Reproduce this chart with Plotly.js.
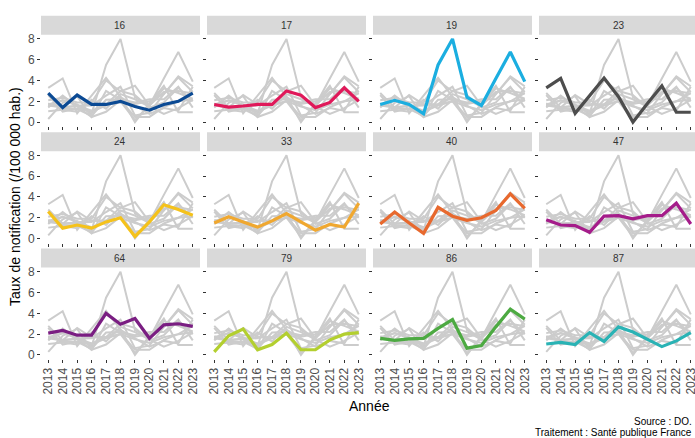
<!DOCTYPE html>
<html>
<head>
<meta charset="utf-8">
<script src="https://cdn.plot.ly/plotly-3.0.1.min.js"></script>
<style>html,body{margin:0;padding:0;background:#fff;}#chart{width:695px;height:438px;}</style>
</head>
<body>
<div id="chart"></div>
<script>
// ---- data ----
const years = [2013,2014,2015,2016,2017,2018,2019,2020,2021,2022,2023];
const yearLabels = ['2013','2014','2015','2016','2017','2018','2019','2020','2021','2022','2023'];
const depts = ['16','17','19','23','24','33','40','47','64','79','86','87'];
const d16 = [2.8,1.4,2.6,1.7,1.7,2.0,1.5,1.15,1.7,2.0,2.8];
const d17 = [1.7,1.45,1.55,1.7,1.7,3.0,2.6,1.4,1.9,3.3,2.0];
const d19 = [1.7,2.1,1.7,0.8,5.5,8.0,2.4,1.6,4.2,6.75,3.9];
const d23 = [3.3,4.2,0.85,2.5,4.25,2.45,0.0,1.8,3.5,0.95,0.95];
const d24 = [2.6,1.0,1.3,1.0,1.6,2.0,0.2,1.6,3.25,2.8,2.25];
const d33 = [1.5,2.1,1.6,1.1,1.7,2.4,1.6,0.8,1.35,1.1,3.4];
const d40 = [1.4,2.55,1.5,0.5,3.0,2.15,1.75,2.0,2.7,4.3,2.9];
const d47 = [1.8,1.3,1.25,0.6,2.15,2.2,1.9,2.2,2.2,3.4,1.4];
const d64 = [2.1,2.35,1.9,1.9,4.0,2.95,3.5,1.6,2.9,3.0,2.75];
const d79 = [0.3,1.85,2.5,0.5,1.0,2.1,0.5,0.5,1.45,2.0,2.15];
const d86 = [1.6,1.4,1.55,1.6,2.55,3.4,0.65,0.9,2.7,4.4,3.45];
const d87 = [1.05,1.2,1.0,2.15,1.3,2.7,2.2,1.5,0.8,1.35,2.15];
const series = [d16,d17,d19,d23,d24,d33,d40,d47,d64,d79,d86,d87];
const colors = ['#0B4A94','#E0195A','#1BAEE0','#4D4D4D','#F5C21B','#F0A830','#E8692E','#A51C8A','#7A1E82','#B3CF2F','#4DAA42','#2AB3B5'];
const yTicks = [0,2,4,6,8];

// ---- layout geometry ----
const W = 695, H = 438;
const font = 'Liberation Sans, Arial, Helvetica, sans-serif';
const traces = [];
const layout = {
  width: W, height: H,
  margin: {l:0, r:0, t:0, b:0},
  paper_bgcolor: '#ffffff', plot_bgcolor: '#ffffff',
  showlegend: false,
  font: {family: font, color: '#4D4D4D'},
  shapes: [], annotations: []
};
const pxPerYear = 159 / 11;

depts.forEach((dep, i) => {
  const col = i % 4, row = Math.floor(i / 4);
  const n = i === 0 ? '' : String(i + 1);
  const xLeft = 41 + col * 166;
  const xRight = Math.min(xLeft + 159, W);
  const yTop = 34.8 + row * 116.4;
  const yBot = yTop + 91.5;

  series.forEach((s, j) => {
    if (j === i) return;
    traces.push({x: years, y: s, type: 'scatter', mode: 'lines',
      xaxis: 'x' + n, yaxis: 'y' + n, hoverinfo: 'skip',
      line: {color: '#CCCCCC', width: 2}});
  });
  traces.push({x: years, y: series[i], type: 'scatter', mode: 'lines',
    xaxis: 'x' + n, yaxis: 'y' + n,
    line: {color: colors[i], width: 3.2}});

  layout['xaxis' + n] = {
    domain: [xLeft / W, xRight / W],
    range: [2012.5, 2012.5 + (xRight - xLeft) / pxPerYear],
    anchor: 'y' + n,
    showgrid: false, zeroline: false, showline: false,
    ticks: 'outside', ticklen: 3, tickwidth: 1, tickcolor: '#333333',
    tickvals: years, ticktext: yearLabels, tickangle: -90,
    ticklabeloverflow: 'allow',
    showticklabels: row === 2,
    tickfont: {family: font, size: 12, color: '#4D4D4D'}
  };
  layout['yaxis' + n] = {
    domain: [1 - yBot / H, 1 - yTop / H],
    range: [-0.4, 8.4],
    anchor: 'x' + n,
    showgrid: false, zeroline: false, showline: false,
    ticks: 'outside', ticklen: 3, tickwidth: 1, tickcolor: '#333333',
    tickvals: yTicks,
    showticklabels: col === 0,
    tickfont: {family: font, size: 12, color: '#4D4D4D'}
  };
  layout.shapes.push({type: 'rect', xref: 'paper', yref: 'paper',
    x0: xLeft / W, x1: xRight / W, y0: 1 - yTop / H, y1: 1 - (yTop - 19) / H,
    fillcolor: '#D9D9D9', line: {width: 0}, layer: 'below'});
  layout.annotations.push({xref: 'paper', yref: 'paper',
    x: (xLeft + 79.5) / W, y: 1 - (yTop - 9.5) / H,
    text: dep, showarrow: false, xanchor: 'center', yanchor: 'middle',
    font: {family: font, size: 10, color: '#333333'}});
});

layout.annotations.push({xref: 'paper', yref: 'paper', x: 369 / W, y: 1 - 406 / H,
  text: 'Année', showarrow: false, xanchor: 'center', yanchor: 'middle',
  font: {family: font, size: 14, color: '#000000'}});
layout.annotations.push({xref: 'paper', yref: 'paper', x: 15 / W, y: 1 - 197 / H,
  text: 'Taux de notification (/100 000 hab.)', textangle: -90, showarrow: false,
  xanchor: 'center', yanchor: 'middle',
  font: {family: font, size: 14, color: '#000000'}});
layout.annotations.push({xref: 'paper', yref: 'paper', x: 694 / W, y: 1 - 421 / H,
  text: 'Source : DO.', showarrow: false, xanchor: 'right', yanchor: 'middle',
  font: {family: font, size: 10, color: '#000000'}});
layout.annotations.push({xref: 'paper', yref: 'paper', x: 694 / W, y: 1 - 432 / H,
  text: 'Traitement : Santé publique France', showarrow: false, xanchor: 'right', yanchor: 'middle',
  font: {family: font, size: 10, color: '#000000'}});

Plotly.newPlot('chart', traces, layout, {displayModeBar: false, staticPlot: true});
</script>
</body>
</html>
